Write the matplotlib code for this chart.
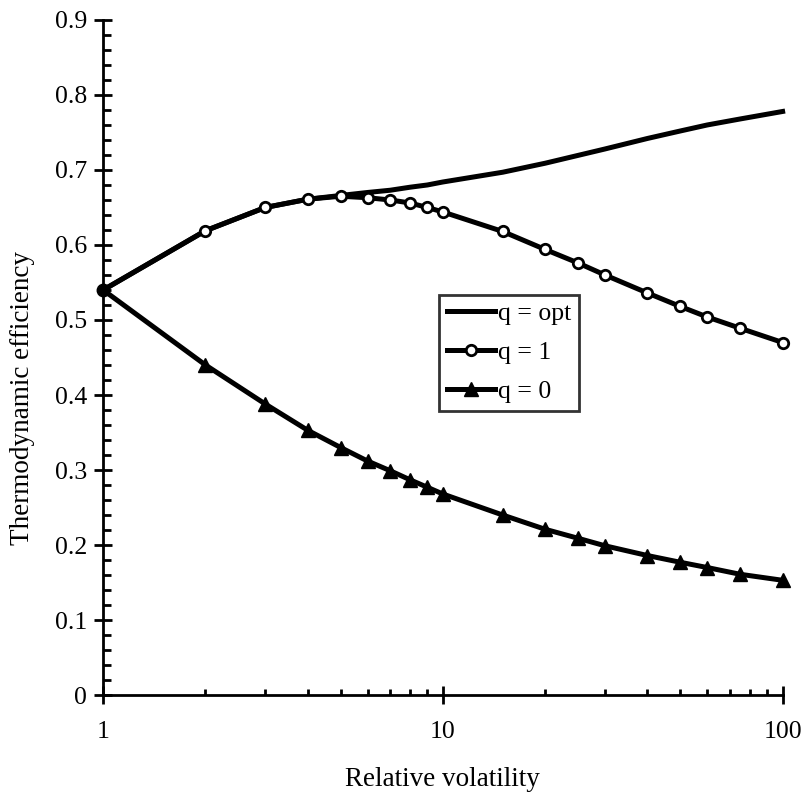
import matplotlib
matplotlib.use("Agg")
import matplotlib.pyplot as plt
from matplotlib.ticker import LogLocator, MultipleLocator, FixedLocator, FixedFormatter, NullFormatter

plt.rcParams["font.family"] = ["Liberation Serif", "DejaVu Serif"]

# relative volatility values
alpha_opt = [1, 2, 3, 4, 5, 6, 7, 8, 9, 10, 15, 20, 30, 40, 50, 60, 75, 100]
eff_opt = [0.54, 0.619, 0.650, 0.661, 0.666, 0.670, 0.673, 0.677, 0.680, 0.684,
           0.697, 0.709, 0.728, 0.742, 0.752, 0.760, 0.768, 0.778]

alpha_q1 = [1, 2, 3, 4, 5, 6, 7, 8, 9, 10, 15, 20, 25, 30, 40, 50, 60, 75, 100]
eff_q1 = [0.54, 0.619, 0.650, 0.661, 0.665, 0.663, 0.660, 0.656, 0.650, 0.644,
          0.618, 0.594, 0.576, 0.560, 0.536, 0.518, 0.504, 0.489, 0.470]

alpha_q0 = [1, 2, 3, 4, 5, 6, 7, 8, 9, 10, 15, 20, 25, 30, 40, 50, 60, 75, 100]
eff_q0 = [0.54, 0.440, 0.388, 0.353, 0.330, 0.312, 0.299, 0.287, 0.277, 0.268,
          0.240, 0.221, 0.209, 0.199, 0.186, 0.177, 0.170, 0.161, 0.153]

y_ticks = [0, 0.1, 0.2, 0.3, 0.4, 0.5, 0.6, 0.7, 0.8, 0.9]
y_labels = ["0", "0.1", "0.2", "0.3", "0.4", "0.5", "0.6", "0.7", "0.8", "0.9"]
x_ticks = [1, 10, 100]
x_labels = ["1", "10", "100"]

fig = plt.figure(figsize=(8.06, 7.98), dpi=100)
ax = fig.add_axes([0.128, 0.129, 0.843, 0.846])

lw = 3.6
ax.plot(alpha_opt, eff_opt, color="black", lw=lw, label="q = opt",
        clip_on=False, zorder=3)
ax.plot(alpha_q1, eff_q1, color="black", lw=lw, marker="o", markersize=7.5,
        markerfacecolor="white", markeredgecolor="black", markeredgewidth=2,
        markevery=list(range(1, len(alpha_q1))), label="q = 1",
        clip_on=False, zorder=4)
ax.plot(alpha_q0, eff_q0, color="black", lw=lw, marker="^", markersize=10,
        markerfacecolor="black", markeredgecolor="black", label="q = 0",
        markevery=list(range(1, len(alpha_q0))), clip_on=False, zorder=4)
# common starting point drawn as a solid dot
ax.plot(alpha_q1[:1], eff_q1[:1], "o", color="black", markersize=9,
        clip_on=False, zorder=5)

ax.set_xscale("log")
ax.set_xlim(1, 100)
ax.set_ylim(0, 0.9)

for s in ["top", "right"]:
    ax.spines[s].set_visible(False)
for s in ["left", "bottom"]:
    ax.spines[s].set_linewidth(2.0)

ax.xaxis.set_major_locator(FixedLocator(x_ticks))
ax.xaxis.set_major_formatter(FixedFormatter(x_labels))
ax.xaxis.set_minor_locator(LogLocator(base=10, subs=range(2, 10)))
ax.xaxis.set_minor_formatter(NullFormatter())
ax.yaxis.set_major_locator(FixedLocator(y_ticks))
ax.yaxis.set_major_formatter(FixedFormatter(y_labels))
ax.yaxis.set_minor_locator(MultipleLocator(0.02))

ax.tick_params(axis="both", which="major", direction="inout", length=13,
               width=2.0, labelsize=18.5)
ax.tick_params(axis="y", which="minor", direction="in", length=6, width=2.0)
ax.tick_params(axis="x", which="minor", direction="in", length=4, width=2.0)
ax.tick_params(axis="x", which="major", pad=12)
ax.tick_params(axis="y", which="major", pad=5)

ax.set_xlabel("Relative volatility", fontsize=19.5)
ax.set_ylabel("Thermodynamic efficiency", fontsize=19.5)
ax.xaxis.set_label_coords(0.5, -0.106)
ax.yaxis.set_label_coords(-0.1, 0.44)

leg = ax.legend(loc="upper left", bbox_to_anchor=(0.494, 0.593), fontsize=18.5,
                frameon=True, fancybox=False, edgecolor="black",
                handlelength=1.9, handletextpad=0.1, labelspacing=0.62,
                borderpad=0.3, borderaxespad=0)
leg.get_frame().set_linewidth(2.0)

fig.savefig("out.png", dpi=100)
